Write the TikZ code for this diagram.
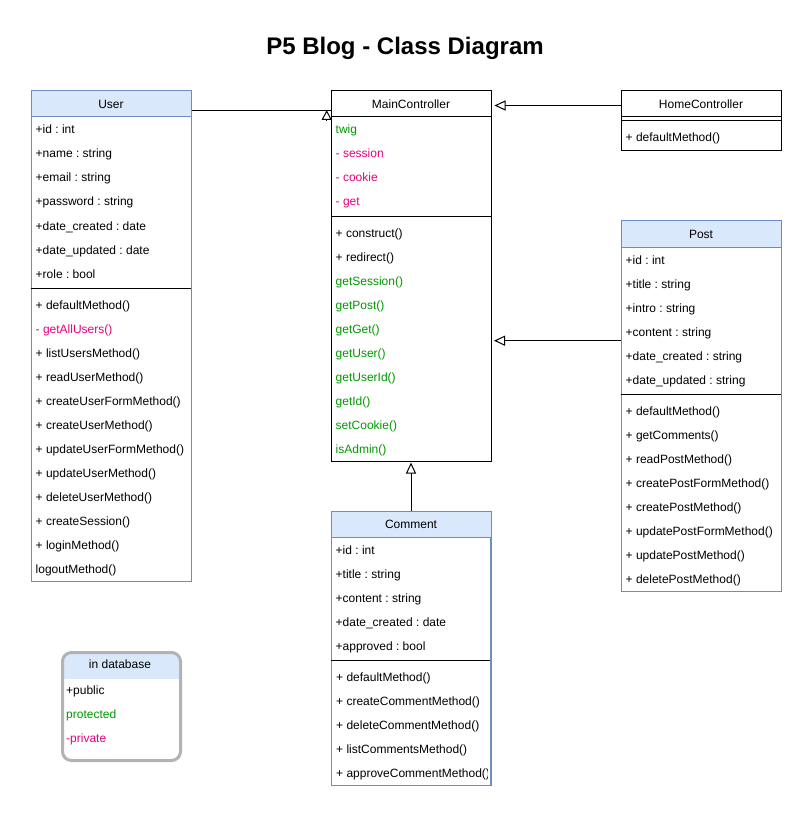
\documentclass[tikz,border=0pt]{standalone}
\usepackage{fontspec}
\setmainfont{Liberation Sans}
\frenchspacing
\usetikzlibrary{arrows.meta,calc}
\definecolor{bluefill}{HTML}{DAE8FC}
\definecolor{bluebd}{HTML}{6C8EBF}
\definecolor{grn}{HTML}{009900}
\definecolor{pnk}{HTML}{E6007E}
\definecolor{lgray}{HTML}{B3B3B3}
\tikzset{
  hdrblue/.style={draw=bluebd, fill=bluefill, line width=1pt, minimum width=160pt, minimum height=26pt, inner sep=0pt, anchor=north west, font=\fontsize{12}{14}\selectfont},
  hdrplain/.style={draw=black, fill=white, line width=1pt, minimum width=160pt, minimum height=26pt, inner sep=0pt, anchor=north west, font=\fontsize{12}{14}\selectfont},
  bodyblue/.style={draw=bluebd, line width=1pt, minimum width=160pt, inner sep=0pt, anchor=north west},
  bodyplain/.style={draw=black, line width=1pt, minimum width=160pt, inner sep=0pt, anchor=north west},
  rowtxt/.style={anchor=west, inner sep=0pt, text height=8.6pt, text depth=0pt, font=\fontsize{12}{14}\selectfont},
  sepline/.style={line width=1pt, draw=black},
  inh/.style={line width=1pt, -{Triangle[open, length=11pt, width=10pt, fill=white]}},
  conn/.style={line width=1pt},
}
\begin{document}
\begin{tikzpicture}[x=1pt, y=-1pt]
\useasboundingbox (0,0) rectangle (811,818);
\fill[white] (0,0) rectangle (811,818);

\node[font=\bfseries\fontsize{24}{28}\selectfont] (title) at (405,48) {P5 Blog - Class Diagram};

% ---------- User ----------
\node[bodyblue, minimum height=464pt] (userb) at (30.5,116.5) {};
\node[hdrblue] (userh) at (30.5,90.5) {User};
\draw[sepline] (30.5,288.5) -- (190.5,288.5);
\foreach \t [count=\i from 0] in {+id : int, +name : string, +email : string, +password : string, +date\_created : date, +date\_updated : date, +role : bool}
  \node[rowtxt] (usera\i) at (35.5,{129.7+24*\i}) {\t};
\foreach \t [count=\i from 0] in {+ defaultMethod(), \textcolor{pnk}{- getAllUsers()}, + listUsersMethod(), + readUserMethod(), + createUserFormMethod(), + createUserMethod(), + updateUserFormMethod(), + updateUserMethod(), + deleteUserMethod(), + createSession(), + loginMethod(), logoutMethod()}
  \node[rowtxt] (userm\i) at (35.5,{305+24*\i}) {\t};

% ---------- MainController ----------
\node[bodyplain, minimum height=344pt] (mainb) at (330.5,116.5) {};
\node[hdrplain] (mainh) at (330.5,90.5) {MainController};
\draw[sepline] (330.5,216.5) -- (490.5,216.5);
\foreach \t [count=\i from 0] in {\textcolor{grn}{twig}, \textcolor{pnk}{- session}, \textcolor{pnk}{- cookie}, \textcolor{pnk}{- get}}
  \node[rowtxt] (maina\i) at (335.5,{129.7+24*\i}) {\t};
\foreach \t [count=\i from 0] in {+ construct(), + redirect(), \textcolor{grn}{getSession()}, \textcolor{grn}{getPost()}, \textcolor{grn}{getGet()}, \textcolor{grn}{getUser()}, \textcolor{grn}{getUserId()}, \textcolor{grn}{getId()}, \textcolor{grn}{setCookie()}, \textcolor{grn}{isAdmin()}}
  \node[rowtxt] (mainm\i) at (335.5,{233+24*\i}) {\t};

% ---------- HomeController ----------
\node[bodyplain, minimum height=34pt] (homeb) at (620.5,116.5) {};
\node[hdrplain] (homeh) at (620.5,90.5) {HomeController};
\draw[sepline] (620.5,120.5) -- (780.5,120.5);
\node[rowtxt] (homem0) at (625.5,137.7) {+ defaultMethod()};

% ---------- Post ----------
\node[bodyblue, minimum height=344pt] (postb) at (620.5,246.5) {};
\node[hdrblue] (posth) at (620.5,220.5) {Post};
\draw[sepline] (620.5,394.5) -- (780.5,394.5);
\foreach \t [count=\i from 0] in {+id : int, +title : string, +intro : string, +content : string, +date\_created : string, +date\_updated : string}
  \node[rowtxt] (posta\i) at (625.5,{259.7+24*\i}) {\t};
\foreach \t [count=\i from 0] in {+ defaultMethod(), + getComments(), + readPostMethod(), + createPostFormMethod(), + createPostMethod(), + updatePostFormMethod(), + updatePostMethod(), + deletePostMethod()}
  \node[rowtxt] (postm\i) at (625.5,{411+24*\i}) {\t};

% ---------- Comment ----------
\node[bodyblue, minimum height=248pt] (commb) at (330.5,536.5) {};
\node[hdrblue] (commh) at (330.5,510.5) {Comment};
\draw[sepline] (330.5,660.5) -- (490.5,660.5);
\foreach \t [count=\i from 0] in {+id : int, +title : string, +content : string, +date\_created : date, +approved : bool}
  \node[rowtxt] (comma\i) at (335.5,{550+24*\i}) {\t};
\begin{scope}
  \clip (330.5,536.5) rectangle (487,784.5);
  \foreach \t [count=\i from 0] in {+ defaultMethod(), + createCommentMethod(), + deleteCommentMethod(), + listCommentsMethod(), + approveCommentMethod()}
    \node[rowtxt] (commm\i) at (336,{677+24*\i}) {\t};
\end{scope}
\draw[bluebd, line width=1pt] (490.5,536.5) -- (490.5,784.5);

% ---------- Legend ----------
\node[draw=lgray, line width=3pt, rounded corners=9pt, minimum width=118pt, minimum height=108pt, inner sep=0pt, anchor=north west,
  path picture={\fill[bluefill, sharp corners] (path picture bounding box.north west) rectangle ([yshift=-26.5pt]path picture bounding box.north east);}] (legend) at (61,651) {};
\node[font=\fontsize{12}{14}\selectfont, inner sep=0pt, text height=8.6pt, text depth=0pt] (legendh) at (120,664) {in database};
\node[rowtxt] (leg0) at (66,689.7) {+public};
\node[rowtxt] (leg1) at (66,713.7) {\textcolor{grn}{protected}};
\node[rowtxt] (leg2) at (66,737.7) {\textcolor{pnk}{-private}};

% ---------- Connectors ----------
\draw[conn] ([yshift=-6.5pt]userh.east) -- ([yshift=-6.5pt]mainh.west);
\coordinate (ustem) at (326.7,121);
\coordinate (utip) at (326.7,110);
\draw[inh, -{Triangle[open, length=10pt, width=10pt, fill=white]}] (ustem) -- (utip);
\draw[inh, shorten >=3pt] ([yshift=-1.5pt]homeh.west) -- ([yshift=-1.5pt]mainh.east);
\coordinate (ypm) at (0,340.7);
\draw[inh, shorten >=2.5pt] (postb.west |- ypm) -- (mainb.east |- ypm);
\draw[inh, shorten >=1pt] (commh.north) -- (mainb.south);
\end{tikzpicture}
\end{document}
